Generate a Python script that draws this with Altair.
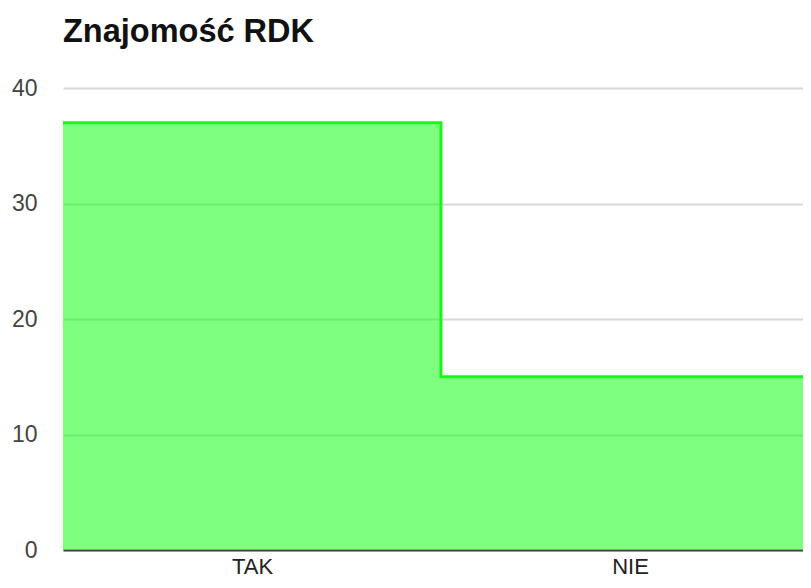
import altair as alt
import pandas as pd

categories = ["TAK", "NIE"]
values = [37, 15]
title_text = "Znajomość RDK"

# step positions: each category occupies one unit; add closing point for last step
xs = list(range(len(categories) + 1))
ys = values + [values[-1]]
df = pd.DataFrame({"x": xs, "y": ys})

centers = [i + 0.5 for i in range(len(categories))]
label_expr = " : ".join(
    [f"datum.value == {c} ? '{n}'" for c, n in zip(centers, categories)] + ["''"]
)

PLOT_W = 740
x_scale = alt.Scale(domain=[0, PLOT_W / 378], nice=False, zero=False)
y_scale = alt.Scale(domain=[0, 40], nice=False)

x_enc = alt.X("x:Q", scale=x_scale,
              axis=alt.Axis(values=centers, labelExpr=label_expr, title=None,
                            grid=False, ticks=False, domain=True,
                            domainColor="#444444", domainWidth=2,
                            labelFont="Liberation Sans", labelFontSize=22,
                            labelColor="#222222", labelPadding=23,
                            labelBaseline="alphabetic"))
y_enc = alt.Y("y:Q", scale=y_scale,
              axis=alt.Axis(values=[0, 10, 20, 30, 40], title=None,
                            grid=True, gridColor="#d9d9d9", gridWidth=2,
                            ticks=False, domain=False,
                            labelFont="Liberation Sans", labelFontSize=23,
                            labelColor="#444444", labelPadding=26))

area = alt.Chart(df).mark_area(
    interpolate="step-after", color="#00ff00", fillOpacity=0.5, clip=True
).encode(x=x_enc, y=y_enc)

line = alt.Chart(df).mark_line(
    interpolate="step-after", color="#1cf51c", strokeWidth=3, clip=True
).encode(x="x:Q", y="y:Q")

chart = (area + line).properties(
    width=PLOT_W, height=462,
    title=alt.TitleParams(title_text, anchor="start", frame="group",
                          font="Liberation Sans", fontSize=32.5, fontWeight="bold",
                          color="#111111", offset=29),
    autosize=alt.AutoSizeParams(type="none"),
    padding={"left": 55, "top": 80, "right": 0, "bottom": 30},
).configure_view(stroke=None)

chart.save("out.html", embed_options={"renderer": "svg", "actions": False})
